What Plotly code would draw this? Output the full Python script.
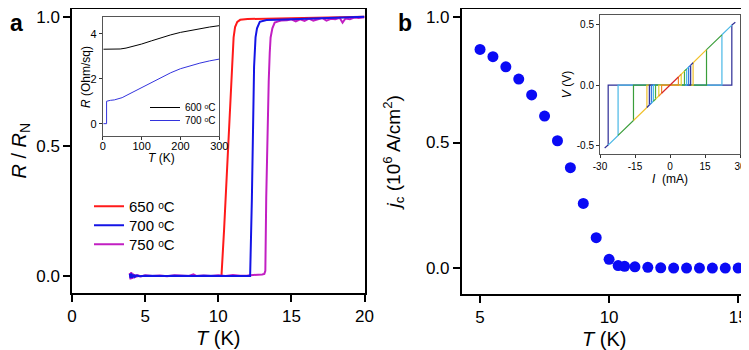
import plotly.graph_objects as go

FONT = "Arial, Liberation Sans, sans-serif"

# ---------------- Panel a: R/RN vs T ----------------
T_650 = [10.0, 10.22, 10.4, 10.63, 10.8, 10.95, 11.05, 11.15, 11.3, 11.5, 12.0, 13.0, 14.0, 15.0,
         16.0, 17.0, 18.0, 19.0, 20.0]
R_650 = [0.0, 0.0, 0.18, 0.42, 0.62, 0.807, 0.92, 0.96, 0.98, 0.988, 0.991, 0.992, 0.993, 0.994,
         0.995, 0.996, 0.997, 0.998, 1.0]

T_750 = [3.95, 4.0, 4.05, 4.1, 4.15, 4.2, 4.25, 4.3, 4.35, 4.4, 4.5, 4.7, 5.0, 5.5, 6.0, 6.5, 7.0,
         7.5, 8.0, 8.3, 8.5, 9.0, 9.5, 10.0, 10.5, 11.0, 11.5, 12.0, 12.5, 12.8, 13.0, 13.15, 13.22,
         13.28, 13.35, 13.45, 13.52, 13.58, 13.7, 13.86, 14.1, 14.3, 14.7, 15.0, 15.3, 15.6, 15.9,
         16.2, 16.5, 16.8, 17.1, 17.4, 17.7, 18.0, 18.3, 18.5, 18.7, 19.0, 19.3, 19.6, 20.0]
R_750 = [0.012, -0.013, 0.015, -0.011, 0.01, -0.009, 0.007, -0.006, 0.005, -0.004, 0.003, -0.002,
         0.003, 0.0, 0.002, -0.001, 0.003, 0.001, 0.0, 0.006, 0.0, 0.002, 0.0, 0.003, 0.0, 0.004,
         0.001, 0.002, 0.003, 0.005, 0.006, 0.008, 0.02, 0.3, 0.55, 0.75, 0.86, 0.92, 0.955, 0.977,
         0.982, 0.985, 0.986, 0.99, 0.982, 0.99, 0.984, 0.993, 0.985, 0.99, 0.995, 0.985, 0.992,
         0.99, 0.996, 0.977, 0.993, 0.99, 0.997, 0.995, 0.998]

T_700 = [3.95, 4.0, 4.05, 4.1, 4.15, 4.2, 4.25, 4.3, 4.4, 4.6, 5.0, 5.5, 6.0, 6.5, 7.0, 7.5, 8.0,
         8.5, 9.0, 9.5, 10.0, 10.5, 11.0, 11.5, 12.0, 12.18, 12.3, 12.4, 12.45, 12.55, 12.65, 12.84,
         13.3, 14.0, 15.0, 16.0, 17.0, 18.0, 19.0, 20.0]
R_700 = [0.008, -0.008, 0.01, -0.007, 0.006, -0.005, 0.004, -0.003, 0.002, -0.001, 0.001, 0.0,
         0.001, 0.0, 0.001, 0.0, 0.001, 0.0, 0.001, 0.0, 0.0, 0.0, 0.0, 0.0, 0.0, 0.0, 0.3, 0.65,
         0.807, 0.92, 0.955, 0.98, 0.987, 0.988, 0.99, 0.991, 0.993, 0.995, 0.997, 1.0]

a_xticks = [0, 5, 10, 15, 20]
a_yticks = [0.0, 0.5, 1.0]

# ---------------- Inset a: R vs T ----------------
T_in600 = [2, 10, 20, 30, 45, 60, 80, 100, 125, 150, 175, 200, 225, 250, 275, 300]
R_in600 = [3.32, 3.32, 3.32, 3.32, 3.33, 3.37, 3.45, 3.55, 3.69, 3.83, 3.96, 4.07, 4.16, 4.24,
           4.31, 4.37]
T_in700 = [2, 6, 10, 10, 15, 20, 30, 40, 50, 60, 80, 100, 125, 150, 175, 200, 225, 250, 275, 300]
R_in700 = [0.0, 0.0, 0.0, 1.0, 1.03, 1.04, 1.06, 1.1, 1.16, 1.25, 1.43, 1.62, 1.85, 2.05, 2.27,
           2.45, 2.58, 2.7, 2.8, 2.88]

# ---------------- Panel b: jc vs T ----------------
T_b = [5.0, 5.5, 6.0, 6.5, 7.0, 7.5, 8.0, 8.5, 9.0, 9.5, 10.0, 10.35, 10.6, 11.0, 11.5, 12.0,
       12.5, 13.0, 13.5, 14.0, 14.5, 15.0]
jc_b = [0.870, 0.841, 0.801, 0.752, 0.689, 0.605, 0.507, 0.400, 0.258, 0.122, 0.036, 0.011,
        0.008, 0.006, 0.004, 0.002, 0.001, 0.001, 0.001, 0.001, 0.001, 0.001]

# ---------------- Inset b: I-V curves ----------------
iv_ic_mA = [26.5, 22.25, 15.65, 9.9, 8.85, 8.0, 7.15, 6.2, 4.8, 3.6, 0.0]
iv_vc_V = [0.496, 0.416, 0.293, 0.185, 0.165, 0.150, 0.134, 0.116, 0.090, 0.067, 0.0]
iv_end_mA = 28.0
iv_end_V = 0.52
iv_colors = ["#2d2d96", "#4ab8e6", "#3a9e3a", "#f0c02a", "#2d2d96", "#2f6fe0", "#3cb8e0",
             "#4aaa40", "#e8d030", "#f08a28", "#d8262a"]
iv_xticks = [-30, -15, 0, 15, 30]
iv_xtext = ["-30", "-15", "0", "15", "30"]
iv_yticks = [-0.5, 0.0, 0.5]
iv_ytext = ["-0.5", "0.0", "0.5"]

fig = go.Figure()

# panel a traces
fig.add_trace(go.Scatter(x=T_650, y=R_650, mode="lines", line=dict(color="#ff1a1a", width=2),
                         name="650 ᵒC", xaxis="x", yaxis="y", legend="legend"))
fig.add_trace(go.Scatter(x=T_750, y=R_750, mode="lines", line=dict(color="#c21fc2", width=2),
                         name="750 ᵒC", xaxis="x", yaxis="y", legend="legend5"))
fig.add_trace(go.Scatter(x=T_700, y=R_700, mode="lines", line=dict(color="#1414e6", width=2),
                         name="700 ᵒC", xaxis="x", yaxis="y", legend="legend4"))

# inset a traces
fig.add_trace(go.Scatter(x=T_in600, y=R_in600, mode="lines", line=dict(color="black", width=1),
                         name="600 ᵒC", xaxis="x2", yaxis="y2", legend="legend2"))
fig.add_trace(go.Scatter(x=T_in700, y=R_in700, mode="lines", line=dict(color="#3333dd", width=1),
                         name="700 ᵒC", xaxis="x2", yaxis="y2", legend="legend3"))

# panel b
fig.add_trace(go.Scatter(x=T_b, y=jc_b, mode="markers",
                         marker=dict(color="#0a0af5", size=11, line=dict(width=0)),
                         showlegend=False, xaxis="x3", yaxis="y3"))

# inset b IV curves (drawn from largest Ic to smallest)
prev_i, prev_v = iv_end_mA, iv_end_V
for ic, vc, col in zip(iv_ic_mA, iv_vc_V, iv_colors):
    xs = [-prev_i, -ic, -ic, ic, ic, prev_i]
    ys = [-prev_v, -vc, 0.0, 0.0, vc, prev_v]
    fig.add_trace(go.Scatter(x=xs, y=ys, mode="lines", line=dict(color=col, width=1.2),
                             showlegend=False, xaxis="x4", yaxis="y4"))
    prev_i, prev_v = ic, vc

# the page body has an 8px margin, so the figure is offset by 8px in the window
OFF = 8
W, H = 749 - OFF, 350 - OFF
def px(x):
    return min(1.0, max(0.0, (x - OFF) / W))
def py(y):
    return min(1.0, max(0.0, 1 - (y - OFF) / H))

main_ax = dict(showline=True, linecolor="black", linewidth=1.5, mirror=True, ticks="outside",
               ticklen=7, tickwidth=1.5, tickcolor="black", showgrid=False, zeroline=False,
               automargin=False, ticklabeloverflow="allow",
               tickfont=dict(size=17, color="black", family=FONT))
inset_ax = dict(showline=True, linecolor="#555555", linewidth=1, mirror=True, ticks="outside",
                ticklen=3, tickwidth=1, tickcolor="#333333", showgrid=False, zeroline=False,
                automargin=False, ticklabeloverflow="allow",
                tickfont=dict(size=11, color="black", family=FONT))

leg_common = dict(xanchor="left", yanchor="top", bgcolor="rgba(0,0,0,0)", tracegroupgap=0,
                  itemwidth=30)
leg_main_font = dict(size=15, family=FONT)
leg_in_font = dict(size=10, family=FONT)

fig.update_layout(
    width=W, height=H, margin=dict(l=0, r=0, t=0, b=0, autoexpand=False),
    paper_bgcolor="white", plot_bgcolor="white",
    font=dict(family=FONT, color="black"),
    xaxis=dict(main_ax, domain=[px(72), px(364.5)], range=[0, 20], tickvals=a_xticks,
               anchor="y", title=dict(text="<i>T</i> (K)", font=dict(size=20), standoff=6)),
    yaxis=dict(main_ax, domain=[py(293), py(8.5)], range=[-0.0656, 1.0316], tickvals=a_yticks,
               tickformat=".1f", anchor="x",
               title=dict(text="<i>R</i> / <i>R</i><sub>N</sub>", font=dict(size=20), standoff=10)),
    xaxis2=dict(inset_ax, domain=[px(102.7), px(219.3)], range=[0, 300], tickvals=[0, 100, 200, 300],
                anchor="y2", ticklabelstandoff=-3),
    yaxis2=dict(inset_ax, domain=[py(136), py(16.7)], range=[-0.55, 4.77], tickvals=[0, 2, 4],
                anchor="x2"),
    xaxis3=dict(main_ax, domain=[px(461.7), px(746.7)], range=[4.29, 15.33], tickvals=[5, 10, 15],
                anchor="y3", title=dict(text="<i>T</i> (K)", font=dict(size=20), standoff=6)),
    yaxis3=dict(main_ax, domain=[py(294), py(8.5)], range=[-0.102, 1.0326], tickvals=[0.0, 0.5, 1.0],
                tickformat=".1f", anchor="x3",
                title=dict(text="<i>j</i><sub>c</sub> (10<sup>6</sup> A/cm<sup>2</sup>)",
                           font=dict(size=19), standoff=20)),
    xaxis4=dict(inset_ax, domain=[px(600), px(740)], range=[-30, 30], tickvals=iv_xticks,
                ticktext=iv_xtext, tickfont=dict(size=10), anchor="y4",
                title=dict(text="<i>I</i>  (mA)", font=dict(size=12), standoff=2)),
    yaxis4=dict(inset_ax, domain=[py(154), py(15)], range=[-0.57, 0.58], tickvals=iv_yticks,
                ticktext=iv_ytext, tickfont=dict(size=10), anchor="x4",
                title=dict(text="<i>V</i> (V)", font=dict(size=12), standoff=2)),
    legend=dict(leg_common, x=px(89), y=py(190), font=leg_main_font),
    legend4=dict(leg_common, x=px(89), y=py(209), font=leg_main_font),
    legend5=dict(leg_common, x=px(89), y=py(228), font=leg_main_font),
    legend2=dict(leg_common, x=px(145), y=py(93), font=leg_in_font),
    legend3=dict(leg_common, x=px(145), y=py(106), font=leg_in_font),
    annotations=[
        dict(text="<b>a</b>", x=px(8), y=py(8), xref="paper", yref="paper", xanchor="left",
             yanchor="top", showarrow=False, font=dict(size=23, family=FONT)),
        dict(text="<b>b</b>", x=px(396), y=py(8), xref="paper", yref="paper", xanchor="left",
             yanchor="top", showarrow=False, font=dict(size=23, family=FONT)),
        dict(text="<i>R</i> (Ohm/sq)", x=px(86), y=py(77), xref="paper", yref="paper",
             xanchor="center", yanchor="middle", textangle=-90, showarrow=False,
             font=dict(size=12, family=FONT)),
        dict(text="<i>T</i> (K)", x=px(161), y=py(158), xref="paper", yref="paper",
             xanchor="center", yanchor="middle", showarrow=False,
             font=dict(size=12, family=FONT)),
    ],
)

fig.write_html("out.html")
